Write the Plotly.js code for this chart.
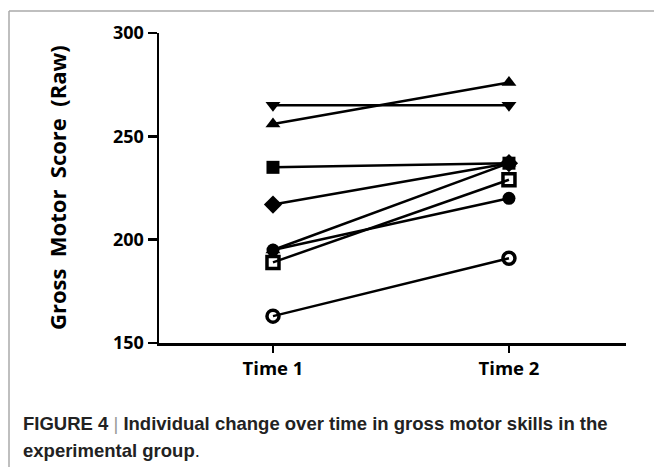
<!DOCTYPE html>
<html>
<head>
<meta charset="utf-8">
<script src="https://cdn.plot.ly/plotly-3.0.1.min.js"></script>
<style>
html,body{margin:0;padding:0;background:#fff;}
#chart{width:654px;height:467px;}
</style>
</head>
<body>
<div id="chart"></div>
<script>
const categories = ["Time 1", "Time 2"];
const xPos = [0, 1];
const subjects = ["S1", "S2", "S3", "S4", "S5", "S6", "S7", "S8"];
const time1 = [163, 195, 189, 195, 217, 235, 256, 265];
const time2 = [191, 220, 229, 237, 237, 237, 276, 265];
const symbols = ["circle-open", "circle", "square-open", "triangle-up", "diamond", "square", "triangle-up", "triangle-down"];
const sizes = [12, 13, 12, 13, 14, 13, 13, 13];
const yTicks = [150, 200, 250, 300];

const traces = subjects.map((s, i) => ({
  type: "scatter",
  mode: "lines+markers",
  x: xPos,
  y: [time1[i], time2[i]],
  name: s,
  line: {color: "#000", width: 2.5},
  marker: {
    symbol: symbols[i],
    size: sizes[i],
    color: "#000",
    line: {color: "#000", width: symbols[i].endsWith("open") ? 3.5 : 0}
  },
  cliponaxis: false,
  showlegend: false
}));

const tickFont = {family: "'Open Sans', sans-serif", color: "#000", weight: 700};

const layout = {
  width: 654, height: 467,
  margin: {l: 159, r: 28, t: 33, b: 124},
  paper_bgcolor: "#fff", plot_bgcolor: "#fff",
  font: {family: "'Open Sans', sans-serif", color: "#000"},
  xaxis: {
    range: [-0.483, 1.496],
    tickvals: xPos, ticktext: categories,
    ticks: "outside", ticklen: 7, tickwidth: 2.5, tickcolor: "#000",
    showline: true, linecolor: "#000", linewidth: 2.5,
    showgrid: false, zeroline: false,
    tickfont: Object.assign({size: 18.5}, tickFont)
  },
  yaxis: {
    range: [150, 300],
    tickvals: yTicks, ticktext: yTicks.map(String),
    ticks: "outside", ticklen: 9, tickwidth: 2.5, tickcolor: "#000",
    showline: true, linecolor: "#000", linewidth: 2.5,
    showgrid: false, zeroline: false,
    tickfont: Object.assign({size: 18}, tickFont),
    ticklabelstandoff: 0
  },
  annotations: [
    {
      xref: "paper", yref: "paper", x: 0, y: (343 - 188) / 310, xshift: -102,
      xanchor: "center", yanchor: "middle", textangle: -90, showarrow: false,
      text: "Gross\u00a0\u00a0Motor\u00a0\u00a0Score\u00a0\u00a0(Raw)",
      font: Object.assign({size: 22}, tickFont)
    },
    {
      xref: "paper", yref: "paper", x: 0, y: 0, xshift: -138, yshift: -80,
      xanchor: "left", yanchor: "middle", showarrow: false, align: "left",
      text: "<b>FIGURE 4</b> <span style='color:#999'>|</span> <b>Individual change over time in gross motor skills in the</b>",
      font: {size: 18.5, family: "Liberation Sans, Arial, sans-serif", color: "#222"}
    },
    {
      xref: "paper", yref: "paper", x: 0, y: 0, xshift: -138, yshift: -107,
      xanchor: "left", yanchor: "middle", showarrow: false, align: "left",
      text: "<b>experimental group</b>.",
      font: {size: 18.5, family: "Liberation Sans, Arial, sans-serif", color: "#222"}
    }
  ],
  shapes: [
    {type: "line", xref: "paper", yref: "paper",
     x0: (9 - 159) / 467, x1: (9 - 159) / 467, y0: (467 - 124 - 11) / 310, y1: -124 / 310 - 0.01,
     line: {color: "#aaa", width: 1.5}},
    {type: "line", xref: "paper", yref: "paper",
     x0: (9 - 159) / 467, x1: (654 - 159) / 467 + 0.01, y0: (467 - 124 - 11) / 310, y1: (467 - 124 - 11) / 310,
     line: {color: "#aaa", width: 1.5}}
  ]
};

Plotly.newPlot("chart", traces, layout, {displayModeBar: false, staticPlot: true});
</script>
</body>
</html>
